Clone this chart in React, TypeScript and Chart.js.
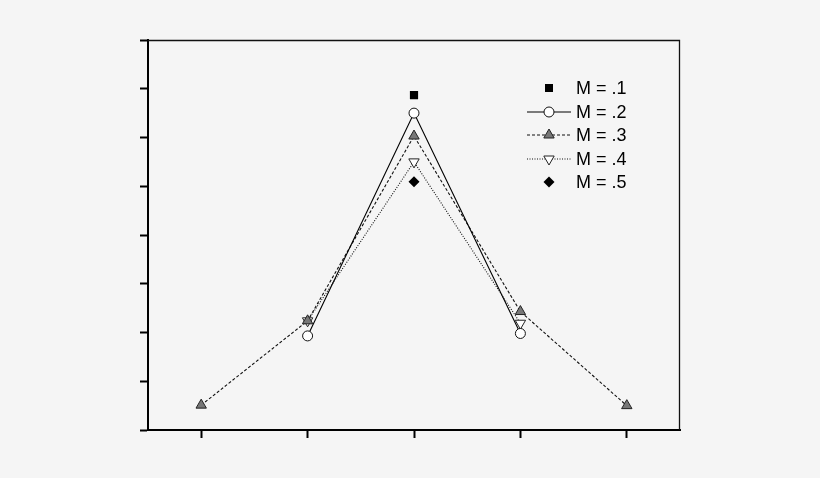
import React, { useEffect, useRef } from "react";
import { Chart, registerables } from "chart.js";

Chart.register(...registerables);

const categories = ["1", "2", "3", "4", "5"];
const seriesLabels = ["M = .1", "M = .2", "M = .3", "M = .4", "M = .5"];
const m1 = [null, null, 6.87, null, null];
const m2 = [null, 1.93, 6.5, 1.98, null];
const m3 = [0.51, 2.24, 6.03, 2.43, 0.5];
const m4 = [null, 2.24, 5.5, 2.19, null];
const m5 = [null, null, 5.09, null, null];
const yMin = 0;
const yMax = 8;

const BG = "#f5f5f5";

const frame = {
  id: "frame",
  afterDraw(chart: any) {
    const { ctx, chartArea } = chart;
    ctx.save();
    ctx.strokeStyle = "#111";
    ctx.lineWidth = 1.3;
    ctx.beginPath();
    ctx.moveTo(chartArea.left, chartArea.top + 0.5);
    ctx.lineTo(chartArea.right - 0.5, chartArea.top + 0.5);
    ctx.lineTo(chartArea.right - 0.5, chartArea.bottom);
    ctx.stroke();
    ctx.restore();
  },
};

function LegendSymbol({ idx }: { idx: number }) {
  const cx = 22;
  const cy = 10;
  const line =
    idx === 1 ? (
      <line x1={0} y1={cy} x2={44} y2={cy} stroke="#000" strokeWidth={1.1} />
    ) : idx === 2 ? (
      <line x1={0} y1={cy} x2={44} y2={cy} stroke="#111" strokeWidth={1.1} strokeDasharray="3 2" />
    ) : idx === 3 ? (
      <line x1={0} y1={cy} x2={44} y2={cy} stroke="#111" strokeWidth={1.1} strokeDasharray="1 1.5" />
    ) : null;
  let marker: any = null;
  if (idx === 0) marker = <rect x={cx - 4} y={cy - 4} width={8} height={8} fill="#000" />;
  if (idx === 1) marker = <circle cx={cx} cy={cy} r={5} fill="#fff" stroke="#111" strokeWidth={1} />;
  if (idx === 2)
    marker = (
      <polygon
        points={`${cx},${cy - 6} ${cx + 5.2},${cy + 3} ${cx - 5.2},${cy + 3}`}
        fill="#777"
        stroke="#222"
        strokeWidth={1}
      />
    );
  if (idx === 3)
    marker = (
      <polygon
        points={`${cx},${cy + 6} ${cx + 5.2},${cy - 3} ${cx - 5.2},${cy - 3}`}
        fill="#fff"
        stroke="#222"
        strokeWidth={1}
      />
    );
  if (idx === 4)
    marker = <polygon points={`${cx},${cy - 5.5} ${cx + 5.5},${cy} ${cx},${cy + 5.5} ${cx - 5.5},${cy}`} fill="#000" />;
  return (
    <svg width={44} height={20} style={{ position: "absolute", left: 527, top: 0, overflow: "visible" }}>
      {line}
      {marker}
    </svg>
  );
}

export default function App() {
  const ref = useRef<HTMLCanvasElement>(null);

  useEffect(() => {
    if (!ref.current) return;
    const chart = new Chart(ref.current, {
      type: "line",
      data: {
        labels: categories,
        datasets: [
          {
            label: seriesLabels[0],
            data: m1,
            showLine: false,
            pointStyle: "rect",
            pointRadius: 5.8,
            pointBackgroundColor: "#000",
            pointBorderColor: "#000",
            pointBorderWidth: 0,
          },
          {
            label: seriesLabels[1],
            data: m2,
            borderColor: "#000",
            borderWidth: 1.1,
            pointStyle: "circle",
            pointRadius: 5,
            pointBackgroundColor: "#fff",
            pointBorderColor: "#111",
            pointBorderWidth: 1,
          },
          {
            label: seriesLabels[2],
            data: m3,
            borderColor: "#111",
            borderWidth: 1.1,
            borderDash: [3, 2],
            pointStyle: "triangle",
            pointRadius: 6,
            pointBackgroundColor: "#777",
            pointBorderColor: "#222",
            pointBorderWidth: 1,
          },
          {
            label: seriesLabels[3],
            data: m4,
            borderColor: "#111",
            borderWidth: 1.1,
            borderDash: [1, 1.5],
            pointStyle: "triangle",
            pointRotation: 180,
            pointRadius: 6,
            pointBackgroundColor: "#fff",
            pointBorderColor: "#222",
            pointBorderWidth: 1,
          },
          {
            label: seriesLabels[4],
            data: m5,
            showLine: false,
            pointStyle: "rectRot",
            pointRadius: 5.5,
            pointBackgroundColor: "#000",
            pointBorderColor: "#000",
            pointBorderWidth: 0,
          },
        ],
      },
      options: {
        animation: false,
        responsive: false,
        maintainAspectRatio: false,
        layout: { padding: { left: 140, right: 140, top: 40, bottom: 40 } },
        plugins: { legend: { display: false }, tooltip: { enabled: false } },
        scales: {
          x: {
            type: "category",
            offset: true,
            grid: {
              offset: false,
              drawOnChartArea: false,
              drawTicks: true,
              tickLength: 8,
              tickWidth: 2,
              tickColor: "#000",
            },
            border: { display: true, color: "#000", width: 2 },
            ticks: { display: false },
          },
          y: {
            min: yMin,
            max: yMax,
            ticks: { display: false, stepSize: 1 },
            grid: {
              drawOnChartArea: false,
              drawTicks: true,
              tickLength: 8,
              tickWidth: 2,
              tickColor: "#000",
            },
            border: { display: true, color: "#000", width: 2 },
          },
        },
      },
      plugins: [frame],
    });
    return () => chart.destroy();
  }, []);

  const rowCenters = [88, 112, 135, 159, 182];

  return (
    <div style={{ position: "fixed", left: 0, top: 0, width: 820, height: 478, background: BG }}>
      <canvas ref={ref} width={820} height={478} style={{ position: "absolute", left: 0, top: 0, width: 820, height: 478 }} />
      {seriesLabels.map((lab, i) => (
        <div key={lab} style={{ position: "absolute", left: 0, top: rowCenters[i] - 10, width: 820, height: 20 }}>
          <LegendSymbol idx={i} />
          <span
            style={{
              position: "absolute",
              left: 576,
              top: 0,
              lineHeight: "20px",
              fontFamily: "'Liberation Sans', Arial, sans-serif",
              fontSize: 18,
              color: "#000",
              whiteSpace: "nowrap",
            }}
          >
            {lab}
          </span>
        </div>
      ))}
    </div>
  );
}
